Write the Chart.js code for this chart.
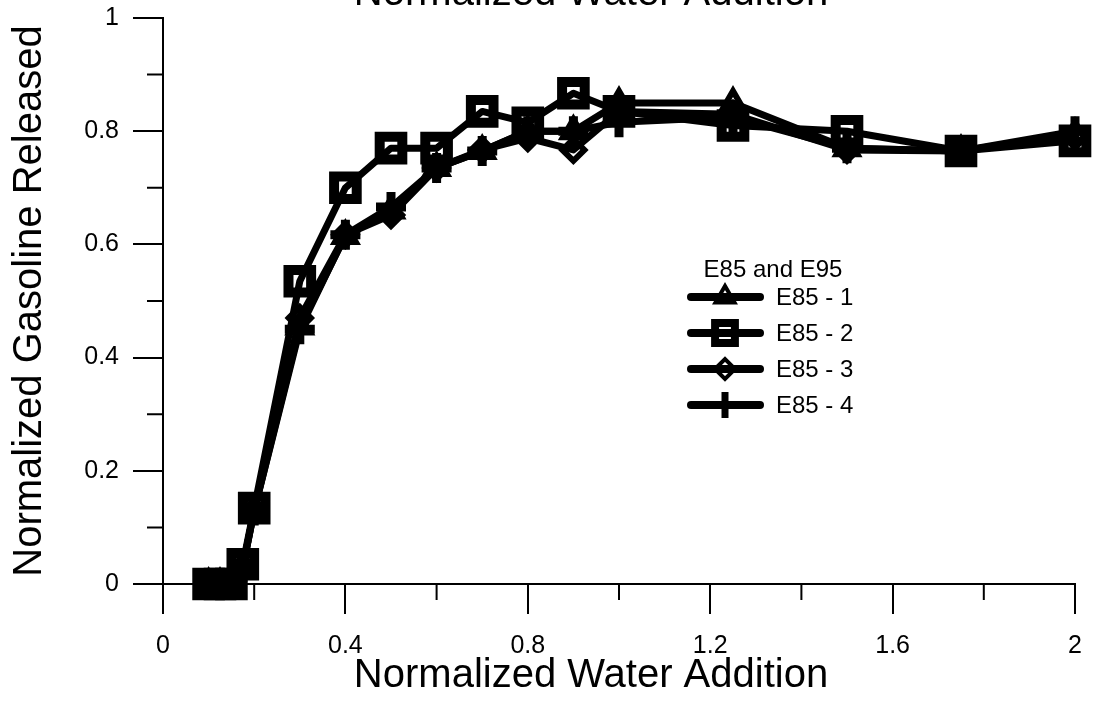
<!DOCTYPE html>
<html>
<head>
<meta charset="utf-8">
<script src="https://cdn.jsdelivr.net/npm/chart.js@4.4.0/dist/chart.umd.min.js"></script>
<style>
  html, body { margin: 0; padding: 0; background: #ffffff; }
  #wrap { width: 1093px; height: 703px; }
</style>
</head>
<body>
<div id="wrap"><canvas id="gasoline" width="1093" height="703"></canvas></div>
<script>
// Water added (normalized) - same steps for all four runs
var waterAdded = [0.1, 0.125, 0.15, 0.175, 0.2, 0.3, 0.4, 0.5, 0.6, 0.7, 0.8, 0.9, 1.0, 1.25, 1.5, 1.75, 2.0];

// Gasoline released (normalized)
var e85run1 = [0, 0, 0, 0.03, 0.13, 0.455, 0.615, 0.66, 0.735, 0.765, 0.80, 0.80, 0.85, 0.85, 0.77, 0.765, 0.795];
var e85run2 = [0, 0, 0, 0.035, 0.134, 0.535, 0.70, 0.77, 0.77, 0.835, 0.815, 0.867, 0.835, 0.81, 0.80, 0.765, 0.783];
var e85run3 = [0, 0, 0, 0.03, 0.13, 0.47, 0.617, 0.652, 0.735, 0.767, 0.788, 0.767, 0.835, 0.83, 0.767, 0.765, 0.79];
var e85run4 = [0, 0, 0, 0.03, 0.13, 0.45, 0.617, 0.666, 0.735, 0.765, 0.80, 0.80, 0.816, 0.825, 0.77, 0.765, 0.80];

var seriesNames = ['E85 - 1', 'E85 - 2', 'E85 - 3', 'E85 - 4'];
var legendTitle = 'E85 and E95';
var chartTitle = 'Normalized Water Addition';
var xTitle = 'Normalized Water Addition';
var yTitle = 'Normalized Gasoline Released';

var xTicks = [0, 0.4, 0.8, 1.2, 1.6, 2];
var xMinor = [0.2, 0.6, 1.0, 1.4, 1.8];
var yTicks = [0, 0.2, 0.4, 0.6, 0.8, 1];
var yMinor = [0.1, 0.3, 0.5, 0.7, 0.9];

const FONT = '"Liberation Sans", Arial, Helvetica, sans-serif';

// marker look per run (legend uses the smaller radius)
var markers = [
    { pointStyle: 'triangle', radius: 12, legendRadius: 11, borderWidth: 6 },
    { pointStyle: 'rect', radius: 16, legendRadius: 14, borderWidth: 10 },
    { pointStyle: 'rectRot', radius: 11, legendRadius: 10, borderWidth: 6 },
    { pointStyle: 'cross', radius: 15, legendRadius: 13, borderWidth: 9 }
];

function toPoints(ys) {
    return waterAdded.map(function (x, i) { return { x: x, y: ys[i] }; });
}

var runs = [e85run1, e85run2, e85run3, e85run4];
var datasets = runs.map(function (ys, i) {
    return {
        label: seriesNames[i],
        data: toPoints(ys),
        borderColor: '#000000',
        borderWidth: 7,
        borderJoinStyle: 'round',
        backgroundColor: 'rgba(0,0,0,0)',
        pointStyle: markers[i].pointStyle,
        pointRadius: markers[i].radius,
        pointHoverRadius: markers[i].radius,
        pointBorderWidth: markers[i].borderWidth,
        pointBorderColor: '#000000',
        pointBackgroundColor: 'rgba(0,0,0,0)',
        tension: 0,
        clip: false
    };
});

function drawMarker(ctx, m, x, y) {
    if (Chart.helpers && Chart.helpers.drawPoint) {
        Chart.helpers.drawPoint(ctx, { pointStyle: m.pointStyle, rotation: 0, radius: m.legendRadius, borderWidth: m.borderWidth }, x, y);
    }
}

// minor ticks, page title, x title and the legend box
const decorations = {
    id: 'decorations',
    afterDraw(chart) {
        const ctx = chart.ctx;
        const xs = chart.scales.x, ys = chart.scales.y;
        ctx.save();
        ctx.strokeStyle = '#000';
        ctx.lineWidth = 2;
        ctx.beginPath();
        xMinor.forEach(function (v) {
            const px = xs.getPixelForValue(v);
            ctx.moveTo(px, ys.bottom);
            ctx.lineTo(px, ys.bottom + 16);
        });
        yMinor.forEach(function (v) {
            const py = ys.getPixelForValue(v);
            ctx.moveTo(xs.left, py);
            ctx.lineTo(xs.left - 16, py);
        });
        ctx.stroke();

        ctx.fillStyle = '#000';
        ctx.font = '40px ' + FONT;
        ctx.textAlign = 'center';
        ctx.textBaseline = 'alphabetic';
        ctx.fillText(chartTitle, 591, 5);
        ctx.fillText(xTitle, 591, 687);

        // legend
        ctx.font = '24px ' + FONT;
        ctx.textBaseline = 'middle';
        ctx.fillText(legendTitle, 773, 270);
        ctx.textAlign = 'left';
        seriesNames.forEach(function (name, i) {
            const y = 297 + i * 36;
            ctx.strokeStyle = '#000';
            ctx.fillStyle = 'rgba(0,0,0,0)';
            ctx.lineWidth = 8;
            ctx.lineCap = 'round';
            ctx.beginPath();
            ctx.moveTo(691, y);
            ctx.lineTo(760, y);
            ctx.stroke();
            ctx.lineCap = 'butt';
            ctx.lineWidth = markers[i].borderWidth - 2;
            drawMarker(ctx, markers[i], 725, y);
            ctx.fillStyle = '#000';
            ctx.fillText(name, 776, y + 1);
        });
        ctx.restore();
    }
};

window.onload = function () {
    const ctx = document.getElementById('gasoline').getContext('2d');
    new Chart(ctx, {
        type: 'line',
        data: { datasets: datasets },
        plugins: [decorations],
        options: {
            responsive: false,
            animation: false,
            devicePixelRatio: 1,
            layout: { autoPadding: false, padding: { top: 18, right: 18, left: 0, bottom: 0 } },
            plugins: {
                legend: { display: false },
                title: { display: false },
                tooltip: { enabled: false }
            },
            events: [],
            scales: {
                x: {
                    type: 'linear',
                    min: 0,
                    max: 2,
                    afterBuildTicks: function (s) { s.ticks = xTicks.map(function (v) { return { value: v }; }); },
                    afterFit: function (s) { s.height = 119; s.paddingLeft = 0; s.paddingRight = 0; },
                    border: { display: true, color: '#000', width: 2 },
                    grid: { display: true, drawOnChartArea: false, tickLength: 30, color: '#000', lineWidth: 2 },
                    ticks: {
                        color: '#000',
                        padding: 17,
                        maxRotation: 0,
                        autoSkip: false,
                        font: { family: FONT, size: 25 },
                        callback: function (v) { return String(v); }
                    }
                },
                y: {
                    type: 'linear',
                    min: 0,
                    max: 1,
                    afterBuildTicks: function (s) { s.ticks = yTicks.map(function (v) { return { value: v }; }); },
                    afterFit: function (s) { s.width = 163; s.paddingTop = 0; s.paddingBottom = 0; },
                    border: { display: true, color: '#000', width: 2 },
                    grid: { display: true, drawOnChartArea: false, tickLength: 30, color: '#000', lineWidth: 2 },
                    title: {
                        display: true,
                        text: yTitle,
                        color: '#000',
                        font: { family: FONT, size: 40 },
                        padding: { top: 6, bottom: 0 }
                    },
                    ticks: {
                        color: '#000',
                        padding: 14,
                        autoSkip: false,
                        font: { family: FONT, size: 25 },
                        callback: function (v) { return String(v); }
                    }
                }
            }
        }
    });
};
</script>
</body>
</html>
